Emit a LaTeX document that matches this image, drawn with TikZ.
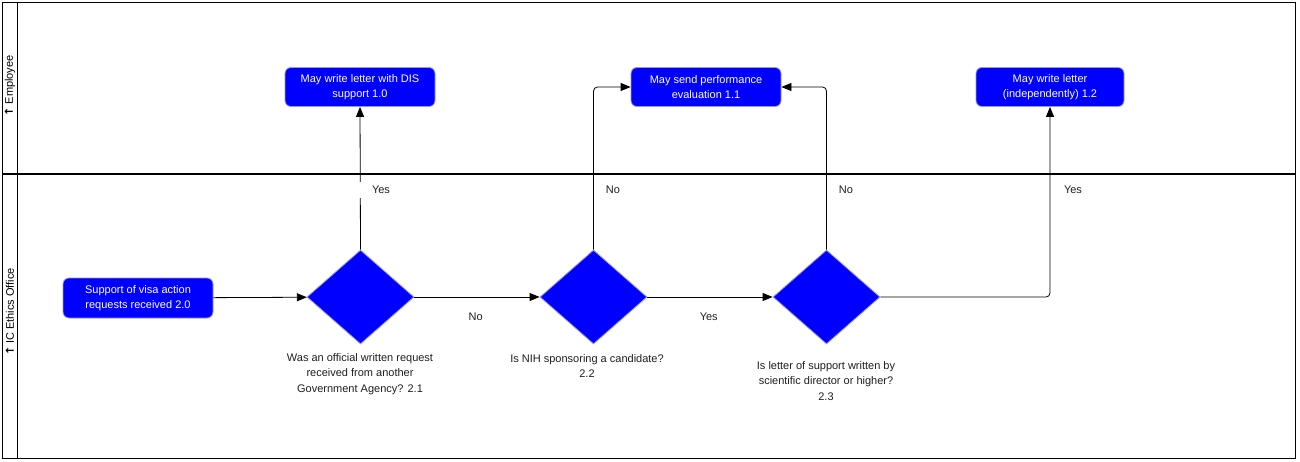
\documentclass[tikz,border=0pt]{standalone}
\usepackage{fontspec}
\setmainfont{Liberation Sans}
\newfontfamily\dejavu{DejaVu Sans}
\usetikzlibrary{shapes.geometric,arrows.meta}
\definecolor{boxblue}{RGB}{0,0,255}
\definecolor{boxedge}{RGB}{150,150,235}
\definecolor{labgray}{RGB}{30,30,30}
\tikzset{
  every node/.style={font=\fontsize{11}{15.5}\selectfont},
  taskbox/.style={rectangle, rounded corners=6pt, fill=boxblue, draw=boxedge, line width=0.8pt,
    text=white, align=center, minimum width=150pt, minimum height=39pt, inner sep=2pt},
  decision/.style={diamond, fill=boxblue, draw=boxedge, line width=0.8pt,
    minimum width=107pt, minimum height=94pt, inner sep=0pt},
  desc/.style={align=center, text=labgray, inner sep=0pt},
  elabel/.style={text=labgray, inner sep=1pt},
  flow/.style={draw=black, line width=0.8pt, rounded corners=4pt,
    -{Triangle[length=10pt,width=8pt]}},
  lanelabel/.style={rotate=90, text=black, inner sep=0pt}
}
\begin{document}
\begin{tikzpicture}[x=1pt,y=-1pt]
\useasboundingbox (0,0) rectangle (1300,462);
% swimlanes
\draw[line width=1pt] (2,3) rectangle (1295,458);
\draw[line width=1pt] (17,3) -- (17,458);
\draw[line width=1.8pt] (2,174) -- (1295,174);
\node[lanelabel] (lane1) at (10,86) {{\dejavu\bfseries\fontsize{11}{11}\selectfont ↑} Employee};
\node[lanelabel] (lane2) at (10,312) {{\dejavu\bfseries\fontsize{11}{11}\selectfont ↑} IC Ethics Office};
% task boxes
\node[taskbox] (a) at (360,87) {May write letter with DIS\\support 1.0};
\node[taskbox] (b) at (706,87) {May send performance\\evaluation 1.1};
\node[taskbox, minimum width=148pt] (c) at (1050,87) {May write letter\\(independently) 1.2};
\node[taskbox, minimum height=40pt] (d) at (138,298) {Support of visa action\\requests received 2.0};
% decisions
\node[decision] (d1) at (360.5,297) {};
\node[decision] (d2) at (593.5,297) {};
\node[decision] (d3) at (826.5,297) {};
% descriptions
\node[desc] (t1) at (360,374) {Was an official written request\\received from another\\Government Agency? 2.1};
\node[desc] (t2) at (587,366) {Is NIH sponsoring a candidate?\\2.2};
\node[desc] (t3) at (826,381) {Is letter of support written by\\scientific director or higher?\\2.3};
% connectors
\draw[flow] (d) -- (d1);
\draw[flow] (d1) -- node[elabel, pos=0.49, yshift=-20pt] (l1) {No} (d2);
\draw[flow] (d2) -- node[elabel, pos=0.49, yshift=-20pt] (l2) {Yes} (d3);
\draw[flow] (d1.north) -- (a.south);
\node[elabel, fill=white, minimum width=46pt, minimum height=16pt] (l3) at (378,190) {\hspace*{6pt}Yes};
\draw[flow] (d2.north) |- (b.west);
\node[elabel] (l4) at (613,190) {No};
\draw[flow] (d3.north) |- (b.east);
\node[elabel] (l5) at (846,190) {No};
\draw[flow] (d3.east) -| (c.south);
\node[elabel] (l6) at (1073,190) {Yes};
\end{tikzpicture}
\end{document}
